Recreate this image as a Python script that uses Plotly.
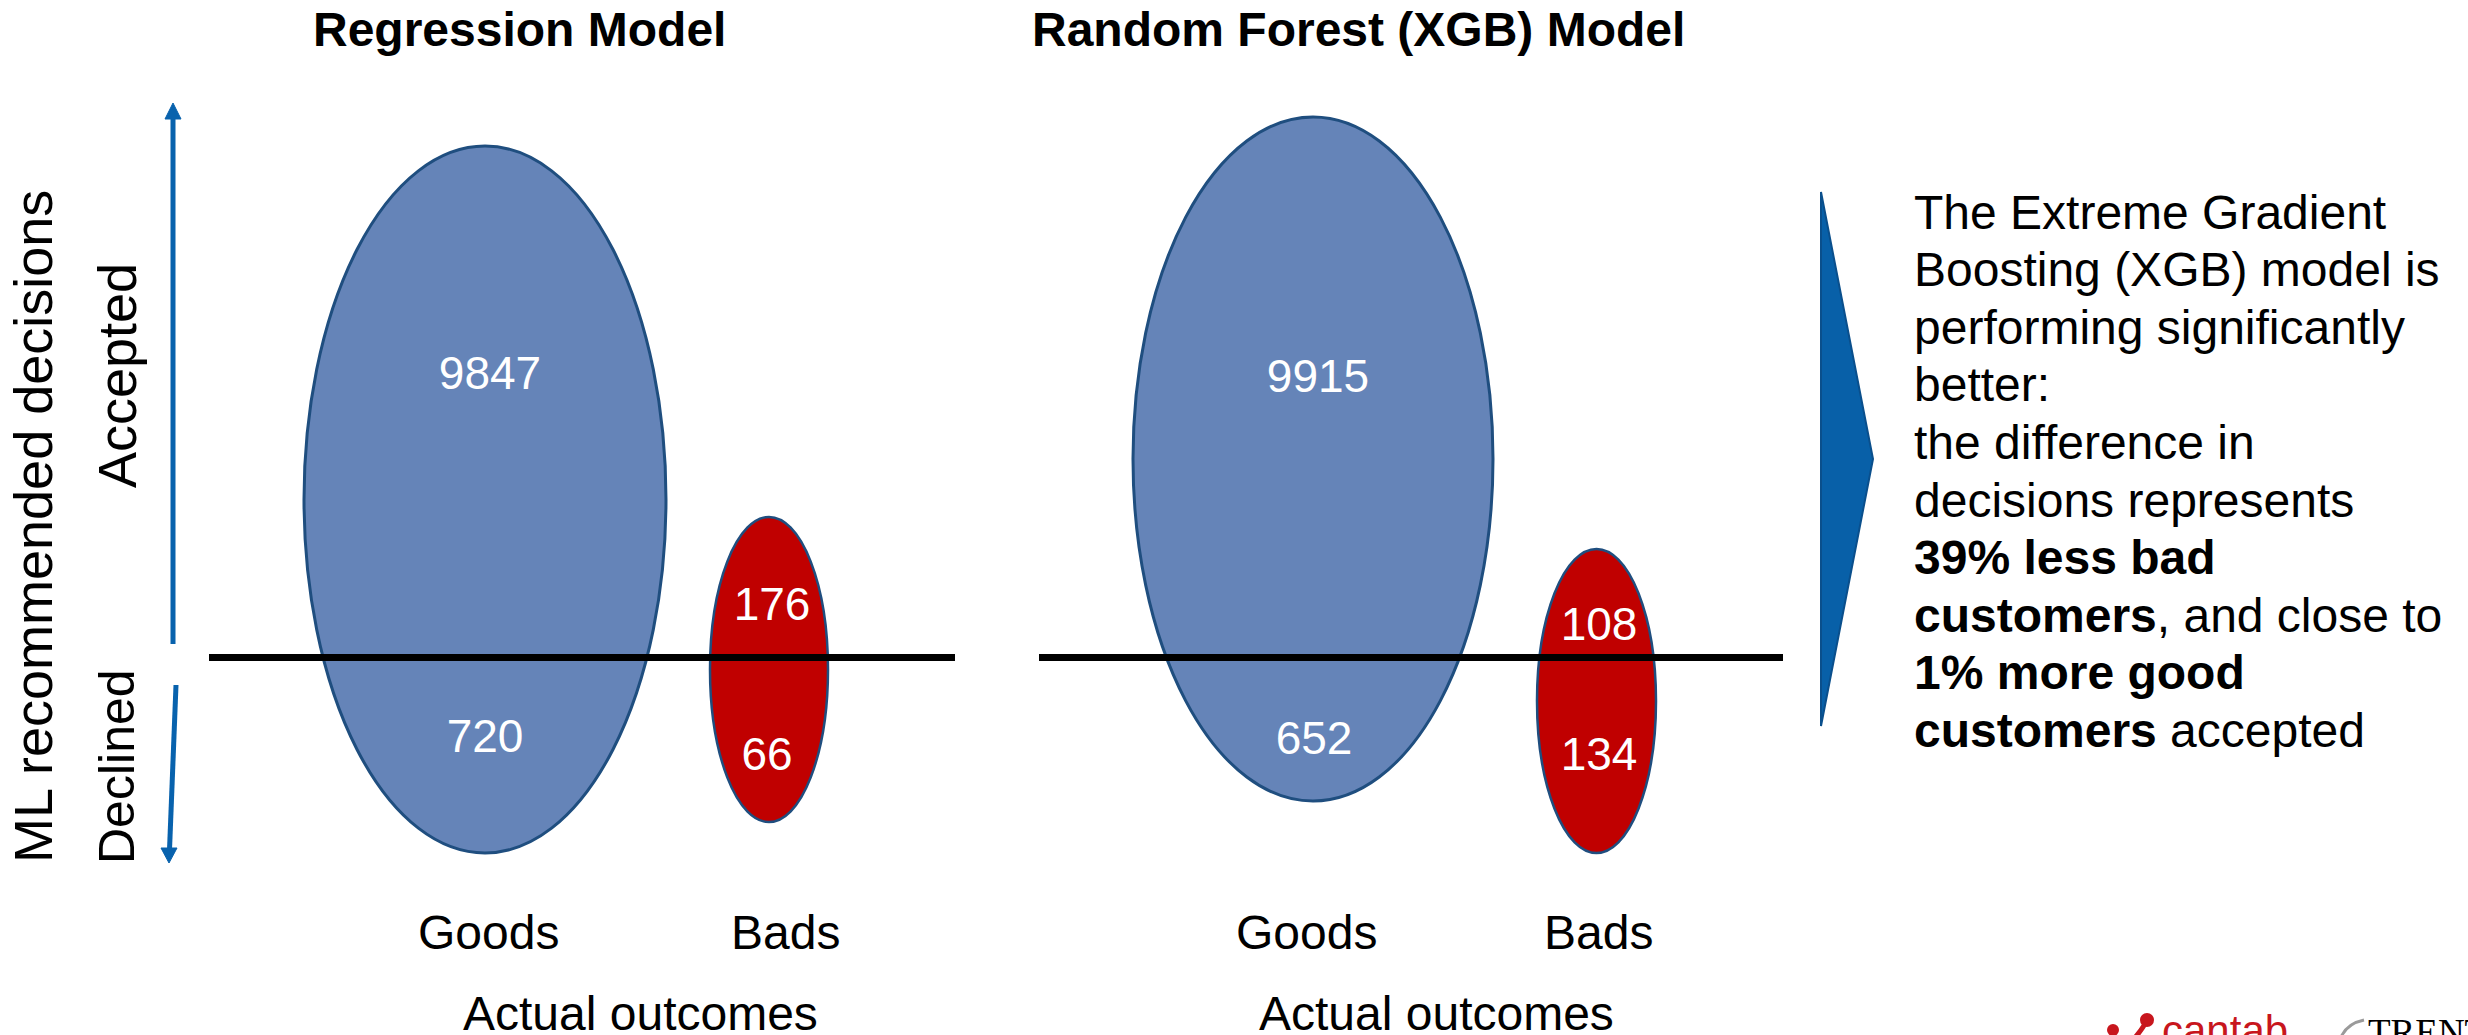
import plotly.graph_objects as go

# ---- data -------------------------------------------------------------
models = ["Regression Model", "Random Forest (XGB) Model"]
outcomes = ["Goods", "Bads"]
accepted_goods = [9847, 9915]
declined_goods = [720, 652]
accepted_bads = [176, 108]
declined_bads = [66, 134]
axis_title = "Actual outcomes"
decision_title = "ML recommended decisions"
decision_levels = ["Accepted", "Declined"]

summary_lines = [
    "The Extreme Gradient",
    "Boosting (XGB) model is",
    "performing significantly",
    "better:",
    "the difference in",
    "decisions represents",
    "<b>39% less bad</b>",
    "<b>customers</b>, and close to",
    "<b>1% more good</b>",
    "<b>customers</b> accepted",
]

# ---- layout geometry (canvas pixels) -----------------------------------
W, H = 2468, 1035
FONT = "Liberation Sans, Arial, sans-serif"
GOOD_FILL = "#6584B8"
BAD_FILL = "#C00000"
EDGE = "#1F4E7F"
ARROW_BLUE = "#0862AD"
SPLIT_Y = 657.5

panels = [
    dict(goods=(304, 666, 146, 853), bads=(710, 828, 517, 822), split=(209, 955),
         title_x=519, axis_x=640, goods_x=488, bads_x=785,
         goods_txt=((490, 377), (485, 740)), bads_txt=((772, 608), (767, 758))),
    dict(goods=(1133, 1493, 117, 801), bads=(1537, 1656, 549, 853), split=(1039, 1783),
         title_x=1358, axis_x=1436, goods_x=1306, bads_x=1598,
         goods_txt=((1318, 380), (1314, 742)), bads_txt=((1599, 628), (1599, 758))),
]

fig = go.Figure()
shapes = []
annotations = []

for i, p in enumerate(panels):
    gx0, gx1, gy0, gy1 = p["goods"]
    bx0, bx1, by0, by1 = p["bads"]
    shapes.append(dict(type="circle", xref="x", yref="y", x0=gx0, x1=gx1, y0=gy0, y1=gy1,
                       fillcolor=GOOD_FILL, line=dict(color=EDGE, width=3), layer="below"))
    shapes.append(dict(type="circle", xref="x", yref="y", x0=bx0, x1=bx1, y0=by0, y1=by1,
                       fillcolor=BAD_FILL, line=dict(color=EDGE, width=2.5), layer="below"))
    sx0, sx1 = p["split"]
    shapes.append(dict(type="line", xref="x", yref="y", x0=sx0, x1=sx1, y0=SPLIT_Y, y1=SPLIT_Y,
                       line=dict(color="black", width=7), layer="below"))

    # count labels inside the ellipses
    xs = [p["goods_txt"][0][0], p["goods_txt"][1][0], p["bads_txt"][0][0], p["bads_txt"][1][0]]
    ys = [p["goods_txt"][0][1], p["goods_txt"][1][1], p["bads_txt"][0][1], p["bads_txt"][1][1]]
    vals = [accepted_goods[i], declined_goods[i], accepted_bads[i], declined_bads[i]]
    fig.add_trace(go.Scatter(x=xs, y=ys, mode="text", text=[str(v) for v in vals],
                             textposition="middle center",
                             textfont=dict(family=FONT, size=46, color="white"),
                             hoverinfo="skip", showlegend=False))

    annotations.append(dict(x=p["title_x"], y=29, xref="x", yref="y", text=f"<b>{models[i]}</b>",
                            showarrow=False, xanchor="center", yanchor="middle",
                            font=dict(family=FONT, size=48, color="black")))
    annotations.append(dict(x=p["goods_x"], y=932, xref="x", yref="y", text=outcomes[0],
                            showarrow=False, xanchor="center", yanchor="middle",
                            font=dict(family=FONT, size=48, color="black")))
    annotations.append(dict(x=p["bads_x"], y=932, xref="x", yref="y", text=outcomes[1],
                            showarrow=False, xanchor="center", yanchor="middle",
                            font=dict(family=FONT, size=48, color="black")))
    annotations.append(dict(x=p["axis_x"], y=1013, xref="x", yref="y", text=axis_title,
                            showarrow=False, xanchor="center", yanchor="middle",
                            font=dict(family=FONT, size=48, color="black")))

# left-hand decision axis: arrows and labels
shapes.append(dict(type="line", xref="x", yref="y", x0=173, x1=173, y0=644, y1=117,
                   line=dict(color=ARROW_BLUE, width=5)))
shapes.append(dict(type="path", xref="x", yref="y", path="M 165 119 L 181 119 L 173 103 Z",
                   fillcolor=ARROW_BLUE, line=dict(color=ARROW_BLUE, width=1)))
shapes.append(dict(type="line", xref="x", yref="y", x0=176, x1=169.5, y0=685, y1=850,
                   line=dict(color=ARROW_BLUE, width=5)))
shapes.append(dict(type="path", xref="x", yref="y", path="M 161 848 L 177 848 L 169 863 Z",
                   fillcolor=ARROW_BLUE, line=dict(color=ARROW_BLUE, width=1)))

annotations.append(dict(x=33, y=527, xref="x", yref="y", text=decision_title, textangle=-90,
                        showarrow=False, xanchor="center", yanchor="middle",
                        font=dict(family=FONT, size=54, color="black")))
annotations.append(dict(x=117, y=376, xref="x", yref="y", text=decision_levels[0], textangle=-90,
                        showarrow=False, xanchor="center", yanchor="middle",
                        font=dict(family=FONT, size=54, color="black")))
annotations.append(dict(x=117, y=767, xref="x", yref="y", text=decision_levels[1], textangle=-90,
                        showarrow=False, xanchor="center", yanchor="middle",
                        font=dict(family=FONT, size=50, color="black")))

# chevron pointing at the conclusion
shapes.append(dict(type="path", xref="x", yref="y", path="M 1821 192 L 1873 459 L 1821 726 Z",
                   fillcolor="#0860A8", line=dict(color="#0A4F8C", width=2)))

# conclusion text
first_mid, pitch = 212, 57.6
for k, line in enumerate(summary_lines):
    annotations.append(dict(x=1912, y=first_mid + k * pitch, xref="x", yref="y", text=line,
                            showarrow=False, xanchor="left", yanchor="middle", align="left",
                            font=dict(family=FONT, size=48, color="black")))

# footer logos
shapes.append(dict(type="circle", xref="x", yref="y", x0=2107, x1=2119, y0=1024, y1=1036,
                   fillcolor="#C8161D", line=dict(width=0)))
shapes.append(dict(type="circle", xref="x", yref="y", x0=2140, x1=2154, y0=1013, y1=1027,
                   fillcolor="#C8161D", line=dict(width=0)))
shapes.append(dict(type="path", xref="x", yref="y", path="M 2145 1024 Q 2140 1032 2133 1040",
                   line=dict(color="#C8161D", width=5)))
annotations.append(dict(x=2160, y=1030, xref="x", yref="y", text="cantab", showarrow=False,
                        xanchor="left", yanchor="middle",
                        font=dict(family=FONT, size=42, color="#C8161D")))
shapes.append(dict(type="path", xref="x", yref="y", path="M 2340 1040 Q 2345 1024 2364 1020",
                   line=dict(color="#9A9A9A", width=3)))
annotations.append(dict(x=2366, y=1032, xref="x", yref="y", text="TRENT", showarrow=False,
                        xanchor="left", yanchor="middle",
                        font=dict(family="Liberation Serif, Times New Roman, serif", size=37,
                                  color="black")))

fig.update_layout(
    width=W, height=H,
    margin=dict(l=0, r=0, t=0, b=0),
    paper_bgcolor="white", plot_bgcolor="white",
    xaxis=dict(range=[0, W], visible=False, fixedrange=True),
    yaxis=dict(range=[H, 0], visible=False, fixedrange=True),
    shapes=shapes, annotations=annotations,
    showlegend=False,
)

fig.write_html("out.html", config={"displayModeBar": False})
